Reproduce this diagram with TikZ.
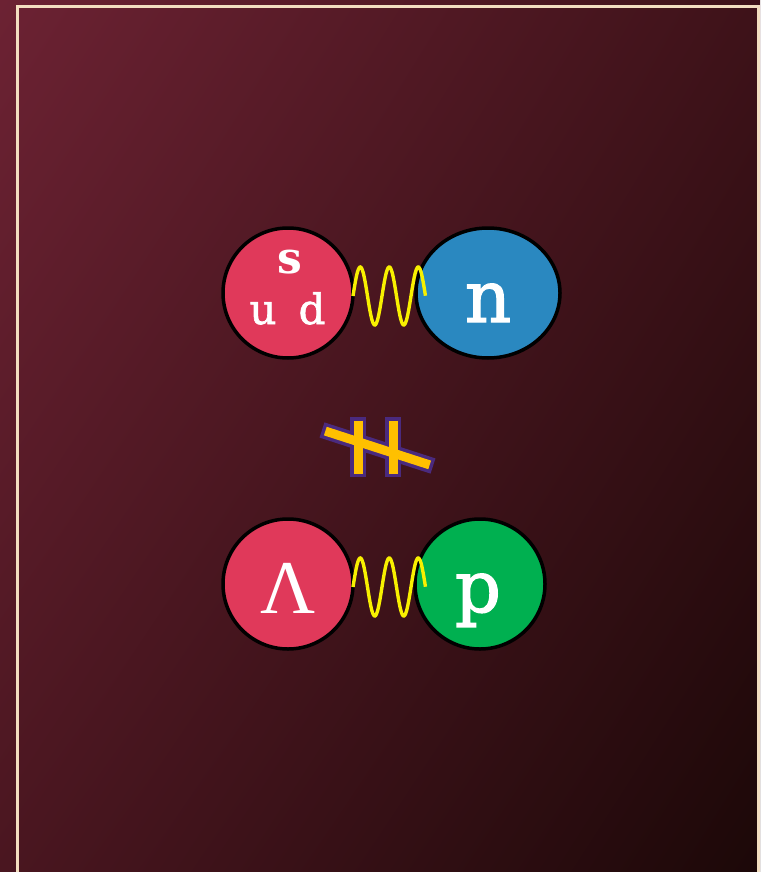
\documentclass[tikz,border=0pt]{standalone}
\usepackage{fontspec}
\setmainfont{Liberation Serif}
\newfontfamily\slab{DejaVu Serif}
\newfontfamily\slabmed[FakeBold=1.6]{DejaVu Serif}
\usetikzlibrary{shapes.geometric,shadings,calc}
\definecolor{bgUL}{HTML}{6C2233}
\definecolor{bgUR}{HTML}{3E1219}
\definecolor{bgLL}{HTML}{4A1620}
\definecolor{bgLR}{HTML}{1C0808}
\definecolor{frame}{HTML}{F3DEC0}
\definecolor{baryonred}{HTML}{E0395A}
\definecolor{neutronblue}{HTML}{2A88C0}
\definecolor{protongreen}{HTML}{00B050}
\definecolor{wave}{HTML}{F8F000}
\definecolor{gold}{HTML}{FFC000}
\definecolor{violet}{HTML}{4A2A7E}
\tikzset{
  particle/.style={circle, draw=black, line width=3.5pt, minimum size=130pt, inner sep=0pt},
  lbl/.style={text=white, inner sep=0pt, anchor=base},
  gluon/.style={draw=wave, line width=3.4pt},
  barout/.style={draw=violet, line width=16pt, line cap=butt},
  barin/.style={draw=gold, line width=9pt, line cap=butt},
}
\begin{document}
\begin{tikzpicture}[x=1pt,y=-1pt]
\useasboundingbox (0,0) rectangle (760,872);
\shade[upper left=bgUL, upper right=bgUR, lower left=bgLL, lower right=bgLR] (0,0) rectangle (760,872);
\draw[frame, line width=3pt] (17.5,880) -- (17.5,6.5) -- (758.5,6.5) -- (758.5,880);
% top pair
\node[particle, fill=baryonred] (sud) at (288,293) {};
\node[particle, ellipse, fill=neutronblue, minimum width=144pt, minimum height=130pt] (n) at (488,293) {};
\node[lbl, font=\slab\bfseries\fontsize{44}{44}\selectfont] (s) at (290,273) {s};
\node[lbl, font=\slabmed\fontsize{42}{42}\selectfont] (u) at (263,324) {u};
\node[lbl, font=\slabmed\fontsize{42}{42}\selectfont] (d) at (312,324) {d};
\node[lbl, font=\slabmed\fontsize{72}{72}\selectfont] (nl) at (488,322) {n};
\draw[gluon] plot[domain=0:2.5, samples=120] ({353+\x*29},{296-29*sin(\x*360)});
% crossed symbol
\coordinate (b1t) at (358,417); \coordinate (b1b) at (358,477);
\coordinate (b2t) at (393,417); \coordinate (b2b) at (393,477);
\coordinate (dgl) at (322,430); \coordinate (dgr) at (433,466);
\draw[barout] (b1t) -- (b1b);
\draw[barout] (b2t) -- (b2b);
\draw[barout] (dgl) -- (dgr);
\draw[barin] ($(b1t)+(0,3.5)$) -- ($(b1b)+(0,-3.5)$);
\draw[barin] ($(b2t)+(0,3.5)$) -- ($(b2b)+(0,-3.5)$);
\draw[barin] ($(dgl)!3.5pt!(dgr)$) -- ($(dgr)!3.5pt!(dgl)$);
% bottom pair
\node[particle, fill=baryonred] (lam) at (288,584) {};
\node[particle, fill=protongreen] (p) at (480,584) {};
\node[lbl, font=\fontsize{76}{76}\selectfont] (laml) at (288,613) {Λ};
\node[lbl, font=\slabmed\fontsize{72}{72}\selectfont] (pl) at (478,612) {p};
\draw[gluon] plot[domain=0:2.5, samples=120] ({353+\x*29},{587-29*sin(\x*360)});
\end{tikzpicture}
\end{document}
